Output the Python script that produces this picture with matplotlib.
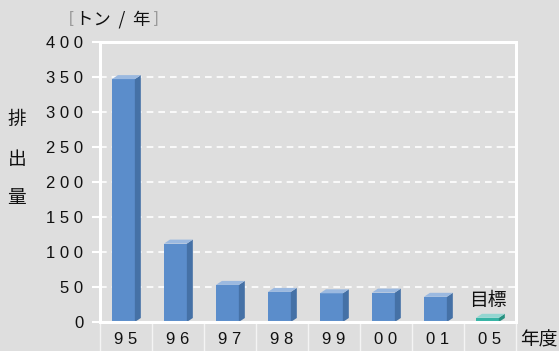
import matplotlib
matplotlib.use("Agg")
import matplotlib.pyplot as plt
from matplotlib.patches import Polygon

plt.rcParams['font.family'] = ['Liberation Sans', 'Noto Sans CJK JP', 'DejaVu Sans']

years = ["95", "96", "97", "98", "99", "00", "01", "05"]
emissions = [347, 112, 53, 43, 41, 42, 36, 6]
is_target = [False] * 7 + [True]
yticks = [0, 50, 100, 150, 200, 250, 300, 350, 400]

bg = "#dedede"
front = "#5b8dcb"
side = "#4571a6"
top = "#9bb9e0"
t_front = "#35b3a4"
t_side = "#27907f"
t_top = "#93d6d1"
ink = "#111111"

fig = plt.figure(figsize=(5.59, 3.51), dpi=100, facecolor=bg)
ax = fig.add_axes([100 / 559, 29 / 351, 416 / 559, 280 / 351])
ax.set_facecolor(bg)

ax.set_xlim(-0.5, 7.5)
ax.set_ylim(0, 400)

# dashed grid lines
for v in yticks[1:-1]:
    ax.axhline(v, color="white", lw=1.2, ls=(0, (4, 3)), zorder=1)

width = 0.44
dx = 0.115
dy = 5.7
for i, (val, tgt) in enumerate(zip(emissions, is_target)):
    fc, sc, tc = (t_front, t_side, t_top) if tgt else (front, side, top)
    x0 = i - 0.05 - width / 2
    x1 = x0 + width
    ax.bar(x0, val, width=width, align="edge", color=fc, zorder=3)
    ax.add_patch(Polygon([(x1, 0), (x1 + dx, dy), (x1 + dx, val + dy), (x1, val)],
                         closed=True, fc=sc, ec="none", zorder=3))
    ax.add_patch(Polygon([(x0, val), (x0 + dx, val + dy), (x1 + dx, val + dy), (x1, val)],
                         closed=True, fc=tc, ec="none", zorder=3))

ax.text(7 - 0.04, emissions[-1] + 10, "目標", ha="center", va="bottom", fontsize=13.5,
        family=['Noto Sans CJK JP'], color=ink)

# frame
for s in ["top", "right", "left", "bottom"]:
    ax.spines[s].set_color("white")
    ax.spines[s].set_linewidth(2.2)
    ax.spines[s].set_zorder(4)

ax.set_yticks(yticks)
ax.set_yticklabels([" ".join(str(v)) for v in yticks], fontsize=12)
ax.tick_params(axis="y", colors="white", labelcolor=ink, length=6, width=1.5, pad=6)
ax.set_xticks([])

# category separators and labels below the baseline
for k in range(9):
    ax.plot([k - 0.5, k - 0.5], [0, -29 / 280], transform=ax.get_xaxis_transform(),
            color="#f4f4f4", lw=1.0, clip_on=False)
for i, y in enumerate(years):
    ax.text(i, -18 / 280, " ".join(y), transform=ax.get_xaxis_transform(),
            ha="center", va="center", fontsize=12, color=ink)

fig.text(539 / 559, 1 - 340 / 351, "年度", ha="center", va="center", fontsize=13.5,
         family=['Noto Sans CJK JP'], color=ink)

# unit label with faint brackets
fig.text(113 / 559, 1 - 19 / 351, "トン  /  年", ha="center", va="center", fontsize=12.5,
         family=['Noto Sans CJK JP', 'DejaVu Sans'], color=ink)
fig.text(71 / 559, 1 - 19 / 351, "[", ha="center", va="center", fontsize=12,
         color="#9a9a9a")
fig.text(156 / 559, 1 - 19 / 351, "]", ha="center", va="center", fontsize=12,
         color="#9a9a9a")

for ch, yy in zip("排出量", [120, 160, 198]):
    fig.text(17 / 559, 1 - yy / 351, ch, ha="center", va="center", fontsize=13.5,
             family=['Noto Sans CJK JP'], color=ink)

fig.savefig("out.png", dpi=100, facecolor=bg)
